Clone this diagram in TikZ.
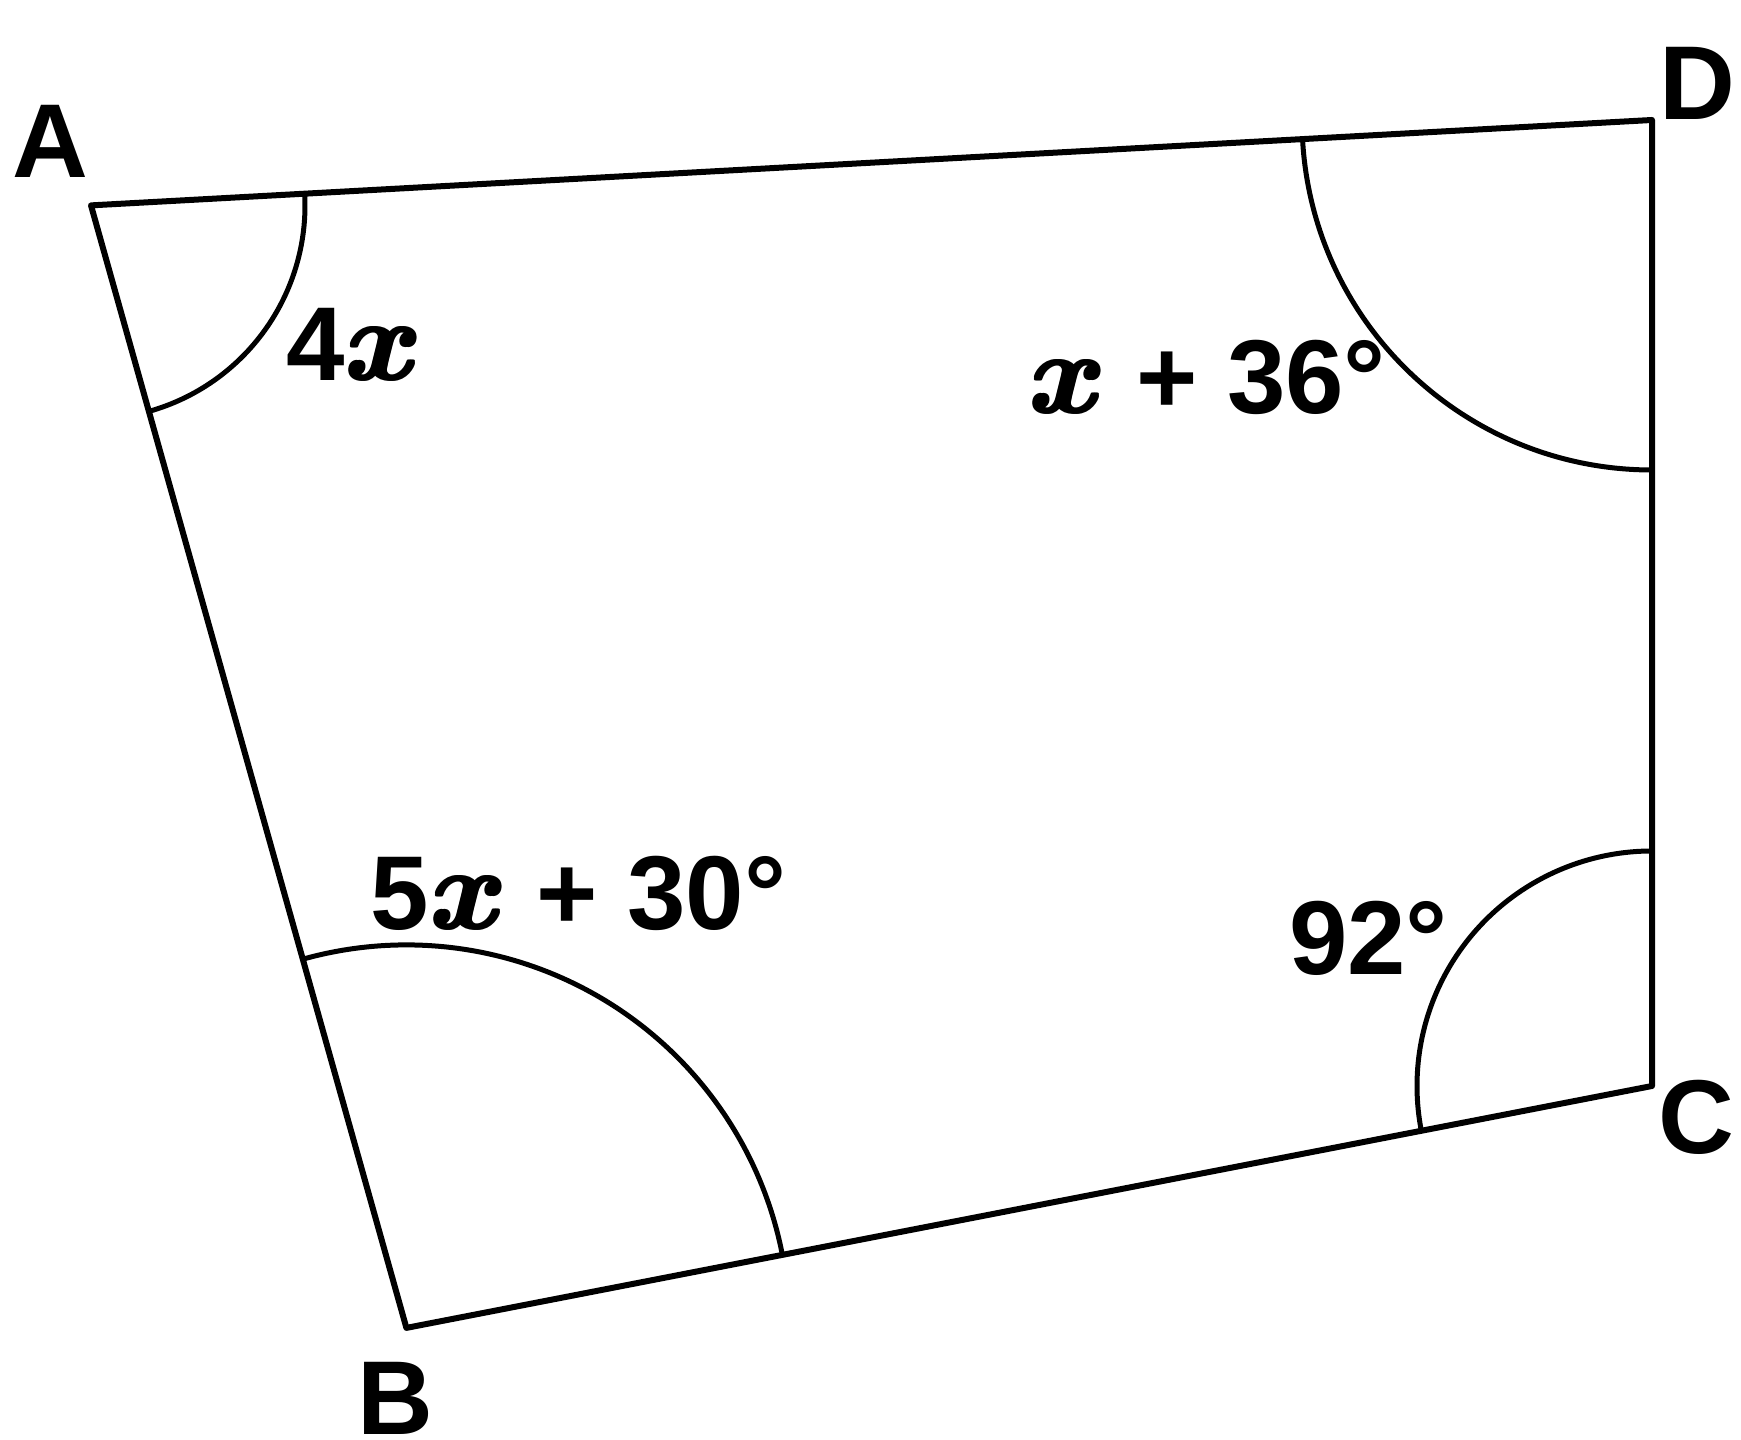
\documentclass[tikz,border=0pt]{standalone}
\usepackage{fontspec}
\usepackage{graphicx}
\setmainfont{Liberation Sans}
\usetikzlibrary{angles,calc}
\newcommand{\xglyph}{{\fontsize{10}{12}\selectfont\boldmath$x$}}
\newcommand{\vx}{\scalebox{11.5}{\rlap{\hspace{0.25pt}\xglyph}\rlap{\raisebox{0.2pt}{\xglyph}}\rlap{\hspace{0.25pt}\raisebox{0.2pt}{\xglyph}}\rlap{\hspace{0.12pt}\raisebox{0.1pt}{\xglyph}}\xglyph\hspace{0.25pt}}}
\tikzset{
  side/.style={line width=6pt, line join=round, line cap=round},
  anglearc/.style={draw, line width=5pt},
  lbl/.style={anchor=base, inner sep=0pt, font=\fontsize{105}{120}\selectfont\bfseries}
}
\begin{document}
\begin{tikzpicture}[x=1pt,y=1pt]
\useasboundingbox (0,0) rectangle (1741,1440);
\coordinate (A) at (91,1234.6);
\coordinate (D) at (1652,1320);
\coordinate (C) at (1652,354);
\coordinate (B) at (406.4,112.1);
\draw[side] (A) -- (D) -- (C) -- (B) -- cycle;
\pic[anglearc, angle radius=214pt] {angle = B--A--D};
\pic[anglearc, angle radius=350pt] {angle = A--D--C};
\pic[anglearc, angle radius=235pt] {angle = D--C--B};
\pic[anglearc, angle radius=383pt] {angle = C--B--A};
\node[lbl] (la) at (50.5,1262.4) {A};
\node[lbl] (ld) at (1697.6,1320) {D};
\node[lbl] (lc) at (1696,286) {C};
\node[lbl] (lb) at (395,5) {B};
\node[lbl] (l4x) at (354.7,1059) {4\vx};
\node[lbl] (l36) at (1207.5,1026) {\vx\ + 36°};
\node[lbl] (l30) at (578.5,510) {5\vx\ + 30°};
\node[lbl] (l92) at (1368.5,465) {92°};
\end{tikzpicture}
\end{document}
